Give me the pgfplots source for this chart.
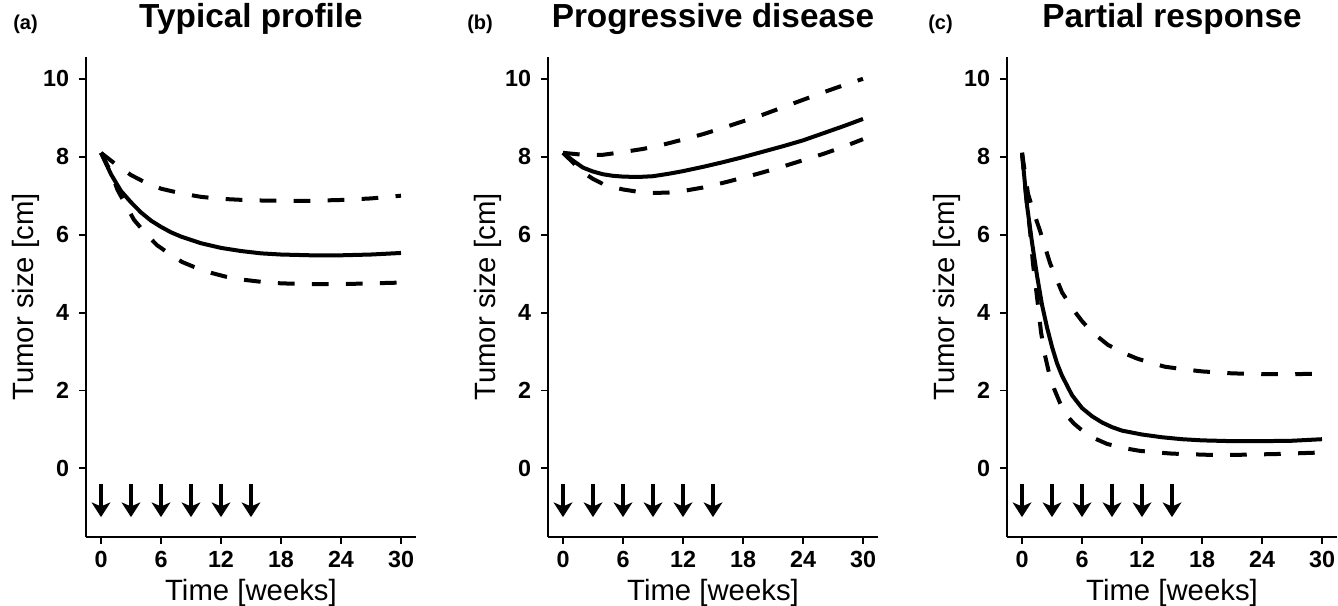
\documentclass[border=0pt]{standalone}
\usepackage{fontspec}
\setmainfont{Liberation Sans}
\usepackage{pgfplots}
\pgfplotsset{compat=1.18}
\usetikzlibrary{arrows.meta}

\pgfplotsset{
  panel/.style={
    scale only axis,
    width=247.5pt, height=360pt,
    anchor=south west,
    xmin=-1.5, xmax=31.5,
    ymin=-1.76, ymax=10.56,
    axis lines*=left,
    axis line style={line width=1.4pt},
    tick align=outside,
    major tick length=5pt,
    every tick/.style={line width=1.4pt, black},
    xtick={0,6,...,30}, ytick={0,2,...,10},
    /pgf/number format/assume math mode=true,
    ticklabel style={font=\fontsize{17.5}{18}\selectfont\bfseries, inner sep=0pt},
    xticklabel style={anchor=base, yshift=-18.25pt},
    yticklabel style={anchor=east, xshift=-7.5pt},
    xlabel={Time [weeks]}, ylabel={Tumor size [cm]},
    label style={font=\fontsize{22}{24}\selectfont, inner sep=0pt},
    xlabel style={at={(axis description cs:0.5,-0.13125)}, anchor=base},
    ylabel style={at={(axis description cs:-0.158,0.5)}, anchor=base},
    title style={font=\fontsize{25}{28}\selectfont\bfseries, inner sep=0pt,
      at={(axis description cs:0.5,1.04375)}, anchor=base},
  },
  mid/.style={black, line width=3pt, line join=round},
  band/.style={black, line width=3pt, dash pattern=on 12.5pt off 13pt},
  dose/.style={black, line width=2.4pt,
    quiver={u=0, v=-0.86,
      every arrow/.append style={line width=2.4pt,
        -{Stealth[width=14pt,length=11pt,inset=3pt]}}}},
}

\begin{document}
\begin{tikzpicture}
% (a) typical profile
\begin{axis}[panel, at={(64.5pt,51.75pt)}, title={Typical profile}]
\addplot[mid] coordinates {
 (0,8.1) (1,7.55) (2,7.12) (3,6.83) (4,6.57) (5,6.36) (6,6.2) (7,6.06) (8,5.95)
 (10,5.78) (12,5.66) (14,5.58) (16,5.52) (18,5.49) (21,5.47) (24,5.47) (27,5.49) (30,5.53)};
\addplot[band] coordinates {
 (0,8.1) (1.5,7.8) (3,7.53) (4.5,7.33) (6,7.18) (8,7.06) (10,6.97) (12,6.92)
 (15,6.88) (18,6.87) (21,6.87) (24,6.89) (27,6.93) (30,7.0)};
\addplot[band] coordinates {
 (0,8.1) (1,7.6) (1.65,7.15) (2.5,6.75) (3.3,6.38) (4.5,6.02) (5.6,5.73) (7,5.48)
 (8.1,5.3) (9.5,5.15) (11,5.02) (12.5,4.92) (14,4.85) (16,4.79) (18,4.75) (21,4.73)
 (24,4.73) (27,4.75) (30,4.77)};
\addplot[dose] coordinates {(0,-0.39) (3,-0.39) (6,-0.39) (9,-0.39) (12,-0.39) (15,-0.39)};
\end{axis}

% (b) progressive disease
\begin{axis}[panel, at={(411pt,51.75pt)}, title={Progressive disease}]
\addplot[mid] coordinates {
 (0,8.1) (1,7.9) (2,7.72) (3,7.62) (4,7.55) (5,7.51) (6,7.49) (7.5,7.48) (9,7.5)
 (10.5,7.56) (12,7.63) (14,7.74) (16,7.86) (18,7.99) (20,8.13) (22,8.27) (24,8.42)
 (26,8.6) (28,8.78) (30,8.97)};
\addplot[band] coordinates {
 (0,8.1) (2,8.05) (4,8.05) (6,8.12) (8,8.2) (10,8.31) (12,8.44) (14,8.58) (16,8.74)
 (18,8.91) (20,9.08) (22,9.27) (24,9.46) (26,9.65) (28,9.83) (30,10.0)};
\addplot[band] coordinates {
 (0,8.1) (1,7.85) (2,7.6) (3,7.43) (4,7.3) (5,7.22) (6,7.16) (7.5,7.1) (9,7.07)
 (10.5,7.08) (12,7.12) (14,7.21) (16,7.33) (18,7.46) (20,7.6) (22,7.75) (24,7.91)
 (26,8.07) (28,8.25) (30,8.45)};
\addplot[dose] coordinates {(0,-0.39) (3,-0.39) (6,-0.39) (9,-0.39) (12,-0.39) (15,-0.39)};
\end{axis}

% (c) partial response
\begin{axis}[panel, at={(755.25pt,51.75pt)}, title={Partial response}]
\addplot[mid] coordinates {
 (0,8.1) (0.5,6.75) (1,5.8) (1.5,4.95) (2,4.2) (2.5,3.62) (3,3.12) (3.5,2.7) (4,2.38)
 (5,1.88) (6,1.55) (7,1.34) (8,1.18) (9,1.06) (10,0.97) (12,0.87) (14,0.8) (16,0.75)
 (18,0.72) (21,0.7) (24,0.7) (27,0.71) (30,0.75)};
\addplot[band] coordinates {
 (0,8.1) (0.6,7.05) (1.2,6.55) (1.8,6.1) (2.8,5.27) (4,4.52) (5,4.12) (6,3.78) (7,3.5)
 (8.6,3.17) (10,2.98) (11.5,2.82) (13,2.7) (14.3,2.61) (16,2.55) (18,2.49) (21,2.44)
 (24,2.42) (27,2.42) (30,2.43)};
\addplot[band] coordinates {
 (0,8.1) (0.4,7.0) (0.8,6.1) (1.1,5.25) (1.5,4.4) (1.9,3.5) (2.3,2.9) (2.7,2.45)
 (3.2,2.05) (3.8,1.68) (4.5,1.35) (5.2,1.15) (5.8,1.02) (7,0.8) (8.5,0.63) (10,0.53)
 (11.8,0.45) (13.5,0.41) (15,0.38) (18.5,0.35) (21.8,0.35) (25.5,0.37) (30,0.41)};
\addplot[dose] coordinates {(0,-0.39) (3,-0.39) (6,-0.39) (9,-0.39) (12,-0.39) (15,-0.39)};
\end{axis}

\begin{scope}[every node/.style={font=\fontsize{15}{16}\selectfont\bfseries, inner sep=0pt, anchor=base west}]
\node at (9.75pt,432pt) {(a)};
\node at (350.25pt,432pt) {(b)};
\node at (696pt,432pt) {(c)};
\end{scope}

\pgfresetboundingbox
\path[use as bounding box] (0,0) rectangle (1003.5pt,454.5pt);
\end{tikzpicture}
\end{document}
